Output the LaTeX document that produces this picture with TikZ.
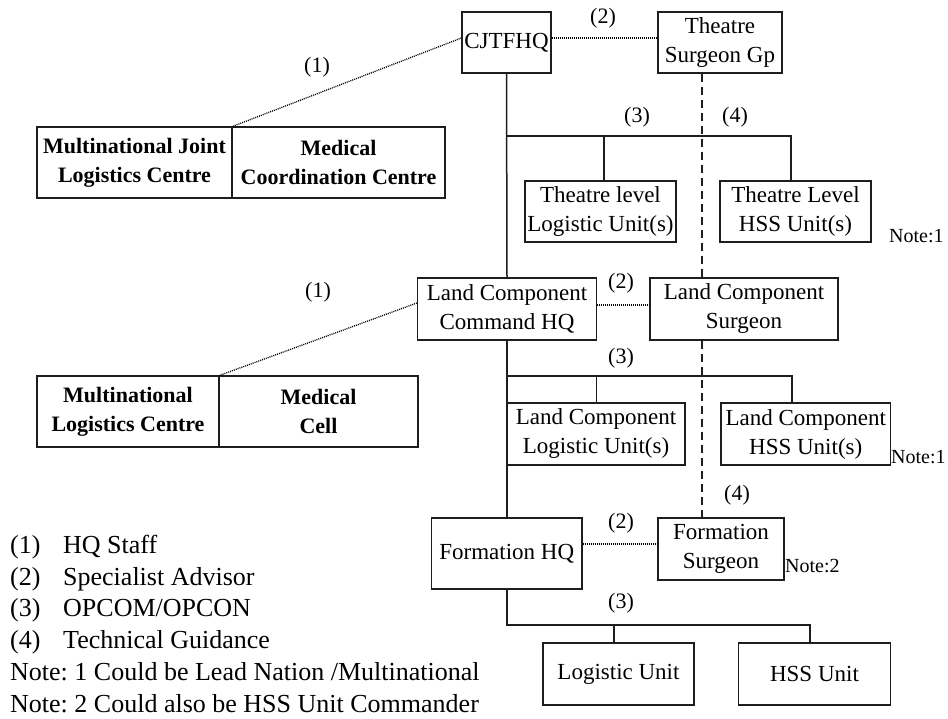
\documentclass[tikz,border=0pt]{standalone}
\usepackage{fontspec}
\setmainfont{Liberation Serif}
\frenchspacing
\definecolor{linec}{HTML}{1E1E1E}
\begin{document}
\begin{tikzpicture}[x=1pt,y=-1pt,
  box/.style={draw=linec, line width=1.2pt, fill=white, inner sep=0pt, align=center,
              font=\fontsize{23}{29}\selectfont},
  bbox/.style={box, font=\fontsize{22}{29}\selectfont\bfseries},
  conn/.style={draw=linec, line width=1.5pt},
  adv/.style={draw=black, line width=1.3pt, dash pattern=on 1pt off 1pt},
  tech/.style={draw=linec, line width=2pt, dash pattern=on 8pt off 5pt},
  num/.style={font=\fontsize{22}{24}\selectfont, inner sep=0pt},
  notelbl/.style={font=\fontsize{20}{22}\selectfont, inner sep=0pt, anchor=base west},
  legend/.style={font=\fontsize{26}{30}\selectfont, inner sep=0pt, anchor=base west}]

\useasboundingbox (0,0) rectangle (948,719);

% ---- theatre level ----
\node[box, minimum width=89pt,  minimum height=61pt] (cjtfhq) at (506.5,42.5) {CJTFHQ};
\node[box, minimum width=124pt, minimum height=61pt] (tsg)    at (720,42.5)   {Theatre\\Surgeon Gp};
\node[bbox, minimum width=195pt, minimum height=71pt] (mjlc)  at (134.5,162.5) {Multinational Joint\\Logistics Centre};
\node[bbox, minimum width=213pt, minimum height=71pt] (mcc)   at (338.5,162.5) {Medical\\Coordination Centre};
\node[box, minimum width=151pt, minimum height=61pt] (tllu)   at (600.5,211.5) {Theatre level\\Logistic Unit(s)};
\node[box, minimum width=151pt, minimum height=61pt] (tlhss)  at (795.5,211.5) {Theatre Level\\HSS Unit(s)};

% ---- land component level ----
\node[box, minimum width=179pt, minimum height=62pt] (lcchq)  at (507,309)   {Land Component\\Command HQ};
\node[box, minimum width=188pt, minimum height=62pt] (lcs)    at (744,309)   {Land Component\\Surgeon};
\node[bbox, minimum width=182pt, minimum height=71pt] (mlc)   at (128,411.5) {Multinational\\Logistics Centre};
\node[bbox, minimum width=199pt, minimum height=71pt] (mcell) at (318.5,411.5) {Medical\\Cell};
\node[box, minimum width=178pt, minimum height=62pt] (lclu)   at (596,434)   {Land Component\\Logistic Unit(s)};
\node[box, minimum width=169.5pt, minimum height=62pt] (lchss) at (805.75,434) {Land Component\\HSS Unit(s)};

% ---- formation level ----
\node[box, minimum width=150.4pt, minimum height=71pt] (fhq) at (506.8,553.5) {Formation HQ};
\node[box, minimum width=126pt, minimum height=62pt] (fs)    at (721,549)    {Formation\\Surgeon};
\node[box, minimum width=151pt, minimum height=62pt] (lu)    at (618.5,674)  {Logistic Unit};
\node[box, minimum width=152pt, minimum height=62pt] (hss)   at (814.5,674)  {HSS Unit};

% ---- bus heights and the technical-guidance axis ----
\coordinate (bus1) at (0,136);
\coordinate (bus2) at (0,376);
\coordinate (bus3) at (0,625);
\coordinate (techx) at (702,0);

% ---- command lines (3) ----
\draw[conn] (cjtfhq.south) -- (lcchq.north);
\draw[conn] (lcchq.south) -- (fhq.north -| lcchq.south);
\draw[conn] (cjtfhq.south |- bus1) -| ([xshift=-4.5pt]tlhss.north);
\draw[conn] ([xshift=3.5pt]tllu.north |- bus1) -- ([xshift=3.5pt]tllu.north);
\draw[conn] (lcchq.south |- bus2) -| ([xshift=-13.75pt]lchss.north);
\draw[conn] ([xshift=0.5pt]lclu.north |- bus2) -- ([xshift=0.5pt]lclu.north);
\draw[conn] (fhq.south) -- (fhq.south |- bus3) -| ([xshift=-4.5pt]hss.north);
\draw[conn] ([xshift=-4.5pt]lu.north |- bus3) -- ([xshift=-4.5pt]lu.north);

% ---- staff links (1) and specialist advice (2) ----
\draw[adv] ([yshift=4.5pt]cjtfhq.west) -- (mjlc.north east);
\draw[adv] ([yshift=4.5pt]cjtfhq.east) -- ([yshift=4.5pt]tsg.west);
\draw[adv] ([yshift=6pt]lcchq.west) -- (mlc.north east);
\draw[adv] ([yshift=4pt]lcchq.east) -- ([yshift=4pt]lcs.west);
\draw[adv] ([yshift=9.5pt]fhq.east) -- ([yshift=5pt]fs.west);

% ---- technical guidance (4) ----
\draw[tech] (tsg.south -| techx) -- (lcs.north -| techx);
\draw[tech] (lcs.south -| techx) -- (fs.north -| techx);

% ---- relationship numbers ----
\node[num] (n1a) at (317,67)  {(1)};
\node[num] (n2a) at (603,18)  {(2)};
\node[num] (n3a) at (637,117) {(3)};
\node[num] (n4a) at (735,117) {(4)};
\node[num] (n1b) at (318,292) {(1)};
\node[num] (n2b) at (621,283) {(2)};
\node[num] (n3b) at (621,358) {(3)};
\node[num] (n4b) at (737,495) {(4)};
\node[num] (n2c) at (621,523) {(2)};
\node[num] (n3c) at (621,603) {(3)};

% ---- notes beside boxes ----
\node[notelbl] (note1a) at (889,243) {Note:1};
\node[notelbl] (note1b) at (891,463) {Note:1};
\node[notelbl] (note2)  at (785,572) {Note:2};

% ---- key ----
\node[legend] (k1) at (10,553) {(1)};  \node[legend] (k1t) at (63,553) {HQ Staff};
\node[legend] (k2) at (10,585) {(2)};  \node[legend] (k2t) at (63,585) {Specialist Advisor};
\node[legend] (k3) at (10,616) {(3)};  \node[legend] (k3t) at (63,616) {OPCOM/OPCON};
\node[legend] (k4) at (10,648) {(4)};  \node[legend] (k4t) at (63,648) {Technical Guidance};
\node[legend] (kn1) at (10,680) {Note: 1 Could be Lead Nation /Multinational};
\node[legend] (kn2) at (10,712) {Note: 2 Could also be HSS Unit Commander};
\end{tikzpicture}
\end{document}
